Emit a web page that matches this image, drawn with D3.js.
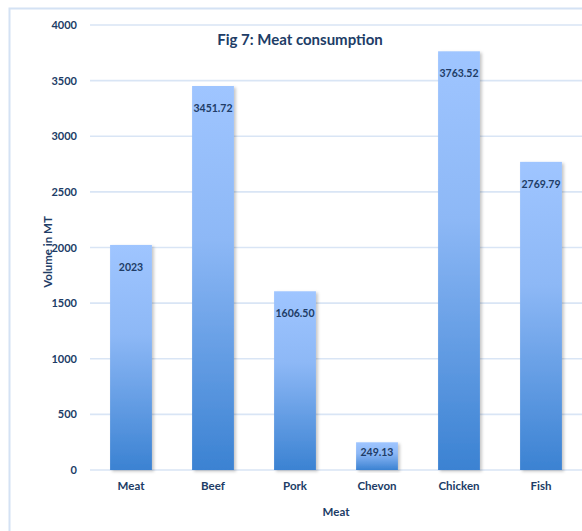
<!DOCTYPE html>
<html><head><meta charset="utf-8">
<script src="https://cdn.jsdelivr.net/npm/d3@7"></script>
<style>body{margin:0;background:#fff}svg{display:block}</style>
</head><body>
<script>
const categories = ["Meat","Beef","Pork","Chevon","Chicken","Fish"];
const values = [2023, 3451.72, 1606.50, 249.13, 3763.52, 2769.79];
const valueLabels = ["2023","3451.72","1606.50","249.13","3763.52","2769.79"];
const yTicks = [0,500,1000,1500,2000,2500,3000,3500,4000];
const title = "Fig 7: Meat consumption";
const xTitle = "Meat";
const yTitle = "Volume in MT";

const W = 582, H = 531;
const font = "Lato, 'Open Sans', sans-serif";
const txt = "#203c66";
const svg = d3.select("body").append("svg").attr("width", W).attr("height", H);

const defs = svg.append("defs");
const g = defs.append("linearGradient").attr("id","bg").attr("x1",0).attr("y1",0).attr("x2",0).attr("y2",1);
g.append("stop").attr("offset","0%").attr("stop-color","#9fc5ff");
g.append("stop").attr("offset","40%").attr("stop-color","#8db8f6");
g.append("stop").attr("offset","100%").attr("stop-color","#3b82d2");
const f = defs.append("filter").attr("id","sh").attr("x","-20%").attr("y","-5%").attr("width","150%").attr("height","115%");
f.append("feDropShadow").attr("dx",2).attr("dy",1.5).attr("stdDeviation",1.5).attr("flood-color","#000").attr("flood-opacity",0.22);

// outer border (cropped)
svg.append("rect").attr("x",9.5).attr("y",8.5).attr("width",W+20).attr("height",H+20)
  .attr("fill","none").attr("stroke","#d4e2f4").attr("stroke-width",2);

const x = d3.scaleBand().domain(categories).range([90, 582]).paddingInner(0.49).paddingOuter(0.245);
const y = d3.scaleLinear().domain([0,4000]).range([470, 25]);

// gridlines
svg.append("g").selectAll("line").data(yTicks).join("line")
  .attr("x1",90).attr("x2",W).attr("y1",d=>y(d)).attr("y2",d=>y(d))
  .attr("stroke","#d9e5f5").attr("stroke-width",1.6);

// y axis
const ya = svg.append("g").attr("transform","translate(90,0)")
  .call(d3.axisLeft(y).tickValues(yTicks).tickFormat(d3.format("d")).tickSize(0).tickPadding(13));
ya.select(".domain").remove();
ya.selectAll("text").attr("fill",txt).attr("font-family",font).attr("font-weight","bold").attr("font-size","11px");

// bars
svg.append("g").selectAll("rect").data(values).join("rect")
  .attr("x",(d,i)=>x(categories[i])).attr("width",x.bandwidth())
  .attr("y",d=>y(d)).attr("height",d=>y(0)-y(d))
  .attr("fill","url(#bg)").attr("filter","url(#sh)");

// value labels
svg.append("g").selectAll("text").data(values).join("text")
  .attr("x",(d,i)=>x(categories[i])+x.bandwidth()/2)
  .attr("y",d=>Math.min(y(d)+22,(y(d)+y(0))/2-4))
  .attr("dy","0.35em").attr("text-anchor","middle")
  .attr("fill",txt).attr("font-family",font).attr("font-weight","bold").attr("font-size","10.5px")
  .text((d,i)=>valueLabels[i]);

// x axis
const xa = svg.append("g").attr("transform","translate(0,470)")
  .call(d3.axisBottom(x).tickSize(0).tickPadding(12));
xa.select(".domain").remove();
xa.selectAll("text").attr("fill",txt).attr("font-family",font).attr("font-weight","bold").attr("font-size","11.5px");

// titles
svg.append("text").attr("x",300).attr("y",45).attr("text-anchor","middle")
  .attr("fill",txt).attr("font-family",font).attr("font-weight","bold").attr("font-size","15px").text(title);
svg.append("text").attr("x",336).attr("y",516).attr("text-anchor","middle")
  .attr("fill",txt).attr("font-family",font).attr("font-weight","bold").attr("font-size","11.5px").text(xTitle);
svg.append("text").attr("transform","translate(52,252) rotate(-90)").attr("text-anchor","middle")
  .attr("fill",txt).attr("font-family",font).attr("font-weight","bold").attr("font-size","11.5px").text(yTitle);
</script>
</body></html>
